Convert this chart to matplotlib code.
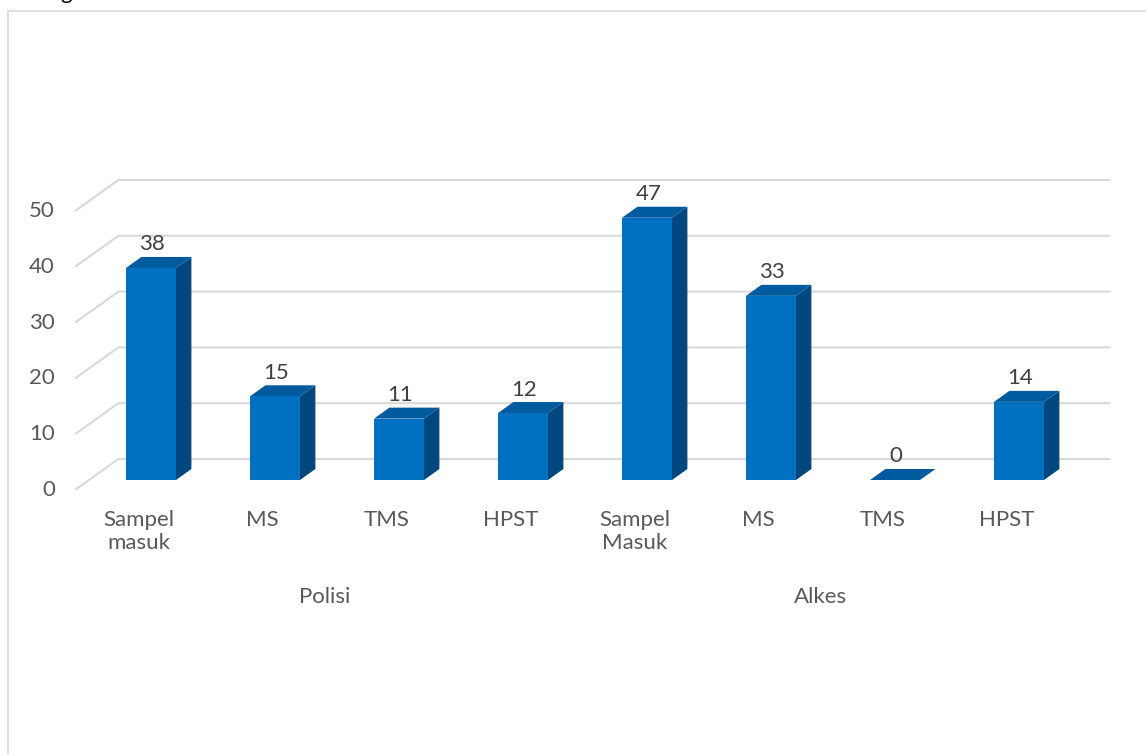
import matplotlib.pyplot as plt
from matplotlib.patches import Polygon, Rectangle

# data
groups = ['Polisi', 'Alkes']
categories = ['Sampel\nmasuk', 'MS', 'TMS', 'HPST', 'Sampel\nMasuk', 'MS', 'TMS', 'HPST']
values = [38, 15, 11, 12, 47, 33, 0, 14]
yticks = [0, 10, 20, 30, 40, 50]

FRONT = '#0070c0'
TOP = '#005a9e'
SIDE = '#00477f'
GRID = '#d9d9d9'
TEXT = '#595959'
FS = 16

plt.rcParams['font.family'] = ['Lato', 'DejaVu Sans']

W, H = 1146, 755
fig = plt.figure(figsize=(W / 100, H / 100), dpi=100)
ax = fig.add_axes([0, 0, 1, 1])

# pixel scale of the chart: 124 px per category, 5.58 px per unit
PX_CAT = 124.0
PX_VAL = 5.58
X0, Y0 = 151.0, 480.0
ax.set_xlim(-X0 / PX_CAT, (W - X0) / PX_CAT)
ax.set_ylim((Y0 - H) / PX_VAL, Y0 / PX_VAL)
ax.axis('off')


def depth(s):
    """shift (dx, dy) in data units for depth s (px), bar front plane is s=10"""
    return 1.4 * (s - 10) / PX_CAT, (s - 10) / PX_VAL


# back wall gridlines + floor diagonals
wx, wy = depth(31)
fx, fy = depth(0)
left, right = -0.5, len(values) - 0.5
for t in yticks:
    ax.plot([left + fx, left + wx, right + wx], [t + fy, t + wy, t + wy],
            color=GRID, lw=1.5, solid_capstyle='butt', zorder=1)
    ax.text(left + fx - 20 / PX_CAT, t + fy, str(t), ha='right', va='center',
            fontsize=FS, color=TEXT)

# 3d-looking bars
bw = 50 / PX_CAT
bx, by = depth(21)
for i, v in enumerate(values):
    x0, x1 = i - bw / 2, i + bw / 2
    ax.add_patch(Polygon([(x1, 0), (x1 + bx, by), (x1 + bx, v + by), (x1, v)],
                         closed=True, facecolor=SIDE, edgecolor='none', zorder=3))
    ax.add_patch(Polygon([(x0, v), (x1, v), (x1 + bx, v + by), (x0 + bx, v + by)],
                         closed=True, facecolor=TOP, edgecolor='none', zorder=3))
    if v > 0:
        ax.add_patch(Rectangle((x0, 0), bw, v, facecolor=FRONT, edgecolor='none', zorder=3))
    ax.text(i + 0.01, v + by + 12.5 / PX_VAL, str(v), ha='center', va='center',
            fontsize=FS, color='#404040', zorder=4)

# category and group labels
for i, c in enumerate(categories):
    ax.text(i - 0.1, -5.3, c, ha='center', va='top', fontsize=FS, color=TEXT,
            linespacing=1.2)
for g, name in enumerate(groups):
    ax.text(g * 4 + 1.5 - 0.1, -19.2, name, ha='center', va='top', fontsize=FS, color=TEXT)

# chart frame (only left and top edges visible) and cut-off caption above
fig.add_artist(Rectangle((8 / W, -0.1), 1.2, 1.1 - 11 / H, transform=fig.transFigure,
                         fill=False, edgecolor=GRID, lw=1.2))
fig.text(66 / W, 1 + 1 / H, 'g', ha='center', va='baseline', fontsize=FS, color='black')

fig.savefig('out.png', dpi=100)
